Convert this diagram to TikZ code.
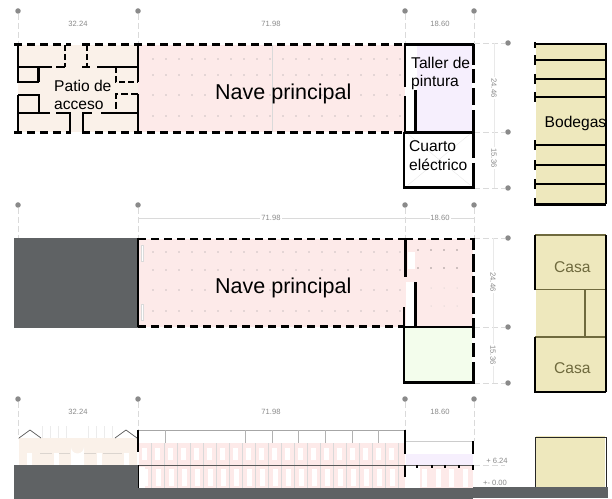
\documentclass[tikz,border=0pt]{standalone}
\usepackage{fontspec}
\setmainfont{Liberation Sans}
\definecolor{navepink}{HTML}{FDEAE9}
\definecolor{patio}{HTML}{FAF1E9}
\definecolor{lilac}{HTML}{F6EFFD}
\definecolor{mint}{HTML}{F3FDEC}
\definecolor{bodega}{HTML}{EEE8BD}
\definecolor{olive}{HTML}{6F6A3E}
\definecolor{ground}{HTML}{5F6264}
\definecolor{dimgrey}{HTML}{8A8A8A}
\definecolor{dimline}{HTML}{DADADA}
\tikzset{
  wall/.style={line width=2.8pt,black},
  dashwall/.style={line width=2.8pt,black,dash pattern=on 8bp off 5bp},
  thinwall/.style={line width=2.2pt,black},
  olivewall/.style={line width=2pt,olive},
  dimdot/.style={circle,fill=dimgrey,inner sep=0pt,minimum size=5.5bp},
  dimln/.style={dimline,line width=.6pt},
  dimdash/.style={dimline,line width=.7pt,dash pattern=on 6bp off 3bp},
  dimtext/.style={text=dimgrey,font=\fontsize{7.6bp}{9bp}\selectfont,inner sep=1pt},
  roomtext/.style={font=\fontsize{15.6bp}{18bp}\selectfont,anchor=base west,inner sep=0pt,text=black},
  bigtext/.style={font=\fontsize{21.5bp}{24bp}\selectfont,anchor=base west,inner sep=0pt,text=black},
  casatext/.style={font=\fontsize{15.6bp}{18bp}\selectfont,anchor=base west,inner sep=0pt,text=olive},
}
\begin{document}
\begin{tikzpicture}[x=1bp,y=-1bp]
\useasboundingbox (0,0) rectangle (612,499);
\fill[white] (0,0) rectangle (612,499);

% ---------- row 1 : fills
\fill[patio] (18,45) rectangle (138,132);
\fill[navepink] (138,45) rectangle (405,132);
\fill[lilac] (417,46) rectangle (472,131);
\fill[bodega] (536,44) rectangle (605,203);
\draw[dimln] (272,45) -- (272,132);
\foreach \y in {59,75,95,116}{
  \foreach \x in {153,166,...,400}{\fill[gray!85] (\x,\y) circle (.6);}
}
% dimension row 1
\foreach \x/\n in {18/a,138/b,405/c,474/d}{
  \node[dimdot] (t\n) at (\x,11) {};
  \coordinate (tb\n) at (\x,44);
  \draw[dimdash] (t\n) -- (tb\n);
  \node[dimdot] (m\n) at (\x,205) {};
}
\node[dimtext] (d1) at (78,24) {32.24};
\node[dimtext] (d2) at (271,24) {71.98};
\node[dimtext] (d3) at (440,24) {18.60};
\foreach \y/\n in {43/a,132/b,188/c}{
  \node[dimdot] (r\n) at (508,\y) {};
  \coordinate (rb\n) at (474,\y);
  \draw[dimdash] (rb\n) -- (r\n);
}
\draw[dimline!60,line width=.5pt] (494,43) -- (494,188);
\node[dimtext,fill=white,rotate=-90] (d4) at (494,88) {24.46};
\node[dimtext,fill=white,rotate=-90] (d5) at (494,158) {15.36};

% walls of patio
\draw[dashwall] (14,44.5) -- (71,44.5);
\draw[dashwall] (82,44.5) -- (405,44.5);
\draw[dashwall] (14,132.5) -- (71,132.5);
\draw[dashwall] (82,132.5) -- (405,132.5);
\draw[thinwall] (18,45) -- (18,83) (18,95) -- (18,132);
\draw[thinwall] (138,45) -- (138,82) (138,94) -- (138,132);
\draw[thinwall,dash pattern=on 6bp off 3bp] (65,45) -- (65,67);
\draw[thinwall,dash pattern=on 6bp off 3bp] (87,45) -- (87,67);
\draw[thinwall] (18,67) -- (52,67) (56,67) -- (65,67) (82,67) -- (90,67) (97,67) -- (138,67);
\draw[thinwall] (38.5,67) -- (38.5,82) (18,82) -- (38.5,82);
\draw[thinwall,dash pattern=on 6bp off 3bp] (116,67) -- (116,82) -- (138,82);
\draw[thinwall] (18,95) -- (39,95) -- (39,113);
\draw[thinwall] (18,113) -- (50,113) (56,113) -- (70,113) -- (70,132);
\draw[thinwall,dash pattern=on 7bp off 3bp] (138,94) -- (116,94) -- (116,113);
\draw[thinwall] (83,132) -- (83,113) -- (92,113) (101,113) -- (138,113);

% taller and cuarto
\draw[wall] (405,44) -- (405,87) (405,96) -- (405,132);
\draw[wall] (404,44.5) -- (474,44.5);
\draw[wall] (415.5,90) -- (415.5,132);
\draw[wall] (404,132.5) -- (474,132.5);
\draw[wall] (473.5,44) -- (473.5,65) (473.5,69) -- (473.5,83) (473.5,88) -- (473.5,105) (473.5,110) -- (473.5,132);
\draw[wall] (473.5,132) -- (473.5,158) (473.5,163) -- (473.5,187.5) -- (404,187.5) -- (404,132);
\draw[dimline!60,line width=.4pt] (408,134) -- (470,185) (470,134) -- (408,185);

% bodegas
\draw[wall] (535,44) -- (606,44) -- (606,204);
\foreach \y in {60,79,97,145,165,184}{
  \draw[wall,line width=1.8pt] (535,\y) -- (606,\y);
  \draw[wall,line width=2.2pt] (535,\y-5) -- (535,\y+5);
}
\draw[wall,line width=2.2pt] (535,42) -- (535,48);
\draw[wall] (535,198) -- (535,204.5) -- (606,204.5);

% labels row 1
\node[roomtext] (patio1) at (54,91.5) {Patio de};
\node[roomtext] (patio2) at (54,110) {acceso};
\node[bigtext] (nave1) at (215,100) {Nave principal};
\node[roomtext] (taller1) at (411,68.5) {Taller de};
\node[roomtext] (taller2) at (411,87) {pintura};
\node[roomtext] (cuarto1) at (409,152) {Cuarto};
\node[roomtext] (cuarto2) at (409,171) {eléctrico};
\node[roomtext] (bod) at (544.5,128) {Bodegas};

% ---------- row 2
\fill[ground] (14,238) rectangle (138,328);
\fill[navepink] (138,239) rectangle (473,327);
\fill[white] (406,282) rectangle (414,326);
\fill[mint] (405,328) rectangle (472,381);
\fill[white,draw=dimline,line width=.3pt] (141,245) rectangle (143,261);
\fill[white,draw=dimline,line width=.3pt] (141,304) rectangle (143,320);
\fill[white] (408,252) rectangle (415,269);
\foreach \y in {252,270,290,311}{
  \foreach \x in {153,166,...,400}{\fill[gray!85] (\x,\y) circle (.6);}
}
\foreach \y in {250,268}{\foreach \x in {418,431,444,457}{\fill[black!80] (\x,\y) circle (.6);}}
\foreach \y in {288,306}{\foreach \x in {431,444,457}{\fill[gray!50] (\x,\y) circle (.5);}}

\draw[dimln] (138,218) -- (474,218);
\foreach \x/\n in {18/a,138/b,405/c,474/d}{
  \coordinate (mb\n) at (\x,238);
  \draw[dimdash] (m\n) -- (mb\n);
}
\node[dimtext,fill=white] (d6) at (271,218) {71.98};
\node[dimtext,fill=white] (d7) at (440,218) {18.60};
\foreach \y/\n in {238/a,327/b,383/c}{
  \node[dimdot] (s\n) at (508,\y) {};
  \coordinate (sb\n) at (474,\y);
  \draw[dimdash] (sb\n) -- (s\n);
}
\draw[dimline!60,line width=.5pt] (493,238) -- (493,383);
\node[dimtext,fill=white,rotate=-90] (d8) at (493,282) {24.46};
\node[dimtext,fill=white,rotate=-90] (d9) at (493,355) {15.36};

\draw[dashwall] (138,239) -- (405,239);
\draw[dashwall] (405,239) -- (474,239);
\draw[dashwall] (138,326.5) -- (404,326.5);
\draw[wall] (138,238) -- (138,327);
\draw[wall] (405.5,238) -- (405.5,277);
\draw[wall] (415.5,282) -- (415.5,327);
\draw[wall] (404,307) -- (404,327);
\draw[wall] (404,327) -- (474,327);
\draw[wall] (473.5,238) -- (473.5,250) (473.5,254) -- (473.5,272) (473.5,276) -- (473.5,293) (473.5,297) -- (473.5,314) (473.5,318) -- (473.5,327);
\draw[wall] (473.5,327) -- (473.5,338) (473.5,343) -- (473.5,357) (473.5,362) -- (473.5,382.5) -- (404,382.5) -- (404,327);

\fill[bodega] (536,235) rectangle (605,391);
\draw[olivewall] (535,235) -- (606,235);
\draw[olivewall] (535,289.5) -- (606,289.5);
\draw[olivewall] (535,337) -- (606,337);
\draw[olivewall] (585,289) -- (585,337);
\draw[wall,line width=2pt] (535,235) -- (535,289.5);
\draw[wall,line width=2pt] (535,337) -- (535,392) -- (606,392);
\draw[wall,line width=2pt] (606,235) -- (606,392);

\node[bigtext] (nave2) at (215,293) {Nave principal};
\node[casatext] (casa1) at (554,272) {Casa};
\node[casatext] (casa2) at (554,373.5) {Casa};

% ---------- row 3
\foreach \x/\n/\e in {18/a/438,138/b/430,405/c/430,474/d/441}{
  \node[dimdot] (u\n) at (\x,399) {};
  \coordinate (ub\n) at (\x,\e);
  \draw[dimdash] (u\n) -- (ub\n);
}
\node[dimtext] (d10) at (78,412) {32.24};
\node[dimtext] (d11) at (271,412) {71.98};
\node[dimtext] (d12) at (440,412) {18.60};

% elevation patio
\fill[patio] (19,438) rectangle (137,465);
\foreach \x in {27,54,97,124}{\fill[white] (\x,453) rectangle (\x+5,465);}
\fill[white] (71,465) -- (71,447) arc (180:0:6.5) -- (84,465) -- cycle;
\draw[patio!75!gray,line width=.7pt] (40,453) -- (52,453) (59,453) -- (70,453) (84,453) -- (96,453) (103,453) -- (122,453);
\foreach \x in {42,50,58,66,88,96,104,112}{\draw[gray!15,line width=.5pt] (\x,426) -- (\x,438);}
\draw[gray!70!black,line width=.7pt] (19,438) -- (30,430) -- (41,438);
\draw[gray!70!black,line width=.7pt] (115,438) -- (126,430) -- (137,438);

% elevation nave
\fill[navepink] (139,443) rectangle (405,465);
\fill[navepink] (139,466) rectangle (405,488);
\fill[white] (139,467) rectangle (145,488);
\foreach \x in {142,155,...,395}{
  \fill[white] (\x,448) rectangle (\x+4.5,460);
  \fill[white] (\x+1,469) rectangle (\x+5.5,486);
  \draw[gray!30,line width=.4pt] (\x+9,443) -- (\x+9,488);
}
\draw[gray!70,line width=.8pt] (138,430.5) -- (405,430.5);
\foreach \x in {165,245,272,298,325,352,378}{\draw[gray!60,line width=.5pt] (\x,430) -- (\x,443);}
\fill[lilac] (406,454) rectangle (473,465);
\fill[navepink] (420,466) rectangle (473,488);
\foreach \x in {422,436,449,463}{\fill[white] (\x,469) rectangle (\x+5,487);}
\draw[gray!40,line width=.8pt] (405,441) -- (473,441);
\draw[gray!70!black,line width=.8pt] (138,465) -- (473,465);
\foreach \x in {416,431,444,458}{\fill[black] (\x,465) rectangle (\x+1.5,468);}
\draw[wall] (138,430) -- (138,452);
\draw[wall] (138,465) -- (138,488);
\draw[wall] (405,430) -- (405,454);
\draw[wall] (405,465) -- (405,477);
\draw[wall] (473,441) -- (473,454);
\draw[wall] (473,465) -- (473,470);
\draw[dimdash] (474,465) -- (505,465);
\node[dimtext] (lv1) at (497,461) {+ 6.24};
\node[dimtext] (lv2) at (495,483) {+- 0.00};

\fill[bodega] (536,436) rectangle (605,489);
\draw[black!85,line width=1pt] (535,488) -- (535,437.5) -- (606,437.5) -- (606,488);

\fill[ground] (14,465) rectangle (138,499);
\fill[ground] (138,488) rectangle (473,499);
\fill[ground] (473,487) rectangle (608,498);
\end{tikzpicture}
\end{document}
